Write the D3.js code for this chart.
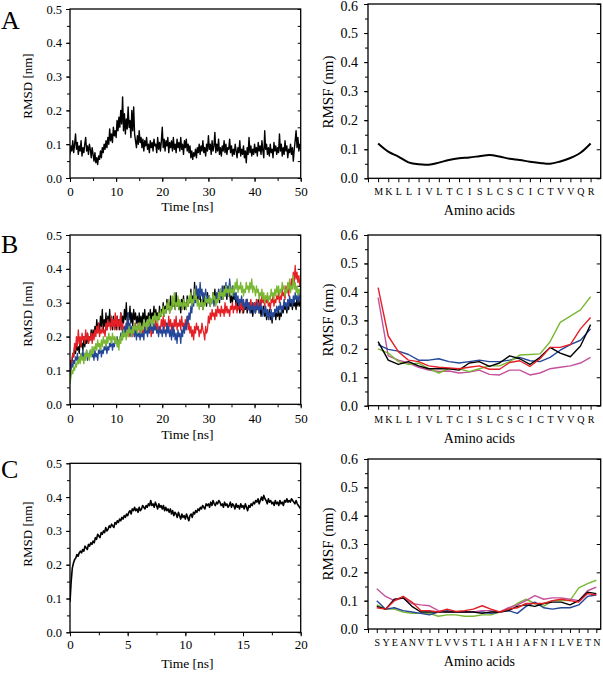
<!DOCTYPE html>
<html><head><meta charset="utf-8">
<script src="https://cdn.jsdelivr.net/npm/d3@7"></script>
<style>
body{margin:0;background:#fff}
svg{display:block}
svg text{font-family:"Liberation Serif","Tinos","Times New Roman","DejaVu Serif","Noto Serif",serif !important;}
</style>
</head><body><svg id="c" width="603" height="673"></svg>
<script>
// ---------- DATA ----------
const panelLetters = ["A","B","C"];
const timeMaxAB = 50, timeMaxC = 20;
const timeTicksAB = [0,10,20,30,40,50];
const timeTicksC = [0,5,10,15,20];
const rmsdTicks = [0,0.1,0.2,0.3,0.4,0.5];
const rmsfTicks = [0,0.1,0.2,0.3,0.4,0.5,0.6];
const aminoAB = ["M","K","L","L","I","V","L","T","C","I","S","L","C","S","C","I","C","T","V","V","Q","R"];
const aminoC = ["S","Y","E","A","N","V","T","L","V","V","S","T","L","I","A","H","I","A","F","N","I","L","V","E","T","N"];

// Panel A, RMSD (nm) over 0-50 ns
const rmsdA = [
.07,.095,.08,.11,.075,.1,.13,.085,.105,.07,.095,.08,.11,.065,.09,.075,.1,.12,.08,.095,.07,.1,.085,.06,.09,
.07,.05,.075,.045,.06,.04,.065,.055,.08,.06,.09,.075,.1,.085,.11,.09,.12,.1,.145,.11,.13,.105,.15,.125,.14,
.12,.17,.14,.18,.15,.2,.16,.24,.14,.19,.13,.175,.145,.21,.15,.17,.12,.2,.14,.21,.13,.11,.09,.125,.1,
.14,.105,.12,.09,.115,.08,.11,.095,.12,.085,.1,.075,.11,.09,.105,.08,.115,.095,.1,.075,.12,.085,.105,.08,.11,
.15,.09,.115,.08,.11,.095,.12,.075,.105,.09,.11,.08,.12,.085,.1,.075,.115,.09,.105,.08,.12,.085,.1,.07,.11,
.09,.115,.08,.1,.075,.095,.06,.08,.055,.075,.065,.085,.06,.09,.075,.1,.07,.095,.08,.11,.075,.09,.065,.1,.08,
.125,.085,.1,.07,.11,.08,.095,.135,.075,.1,.08,.115,.07,.09,.065,.095,.08,.11,.075,.1,.07,.09,.085,.115,.075,
.095,.065,.085,.07,.1,.08,.06,.09,.075,.11,.065,.085,.07,.095,.06,.08,.045,.09,.07,.12,.075,.095,.065,.085,.07,
.1,.075,.09,.065,.105,.08,.095,.07,.11,.08,.06,.14,.085,.1,.07,.09,.065,.1,.075,.085,.06,.105,.08,.095,.07,
.09,.075,.13,.08,.1,.065,.09,.07,.11,.08,.095,.06,.085,.075,.1,.07,.09,.05,.085,.11,.14,.09,.12,.08,.1,.085];

// Panel B, RMSD (nm) over 0-50 ns, four runs
const rmsdBblack = [
.1,.13,.12,.15,.14,.17,.15,.18,.16,.17,.15,.19,.17,.18,.16,.2,.17,.19,.18,.21,.18,.2,.19,.22,.19,
.22,.2,.23,.21,.25,.22,.24,.21,.26,.23,.28,.22,.25,.23,.27,.22,.26,.24,.28,.23,.25,.22,.26,.23,.25,
.22,.26,.24,.25,.22,.27,.23,.26,.24,.28,.25,.3,.24,.27,.25,.29,.24,.27,.23,.28,.25,.27,.24,.26,.23,
.27,.24,.26,.23,.27,.25,.28,.24,.26,.25,.27,.24,.28,.25,.27,.26,.29,.25,.28,.26,.27,.25,.29,.26,.28,
.27,.3,.26,.29,.27,.31,.28,.3,.27,.32,.28,.3,.29,.31,.28,.33,.29,.31,.28,.3,.27,.31,.29,.32,.28,
.3,.28,.32,.29,.31,.3,.34,.29,.32,.3,.36,.31,.33,.3,.34,.31,.32,.29,.31,.28,.32,.3,.31,.29,.33,
.3,.32,.29,.31,.3,.33,.31,.34,.3,.32,.31,.33,.3,.34,.32,.33,.31,.35,.32,.33,.31,.34,.32,.33,.3,
.32,.3,.33,.31,.32,.29,.31,.28,.3,.27,.29,.28,.3,.27,.29,.28,.31,.27,.29,.28,.3,.27,.29,.26,.28,
.3,.27,.29,.28,.31,.27,.29,.26,.28,.27,.29,.26,.28,.25,.27,.26,.28,.25,.27,.24,.27,.26,.28,.25,.27,
.26,.28,.25,.27,.26,.29,.27,.3,.28,.29,.27,.3,.28,.31,.29,.3,.28,.31,.29,.3,.28,.32,.29,.31,.29,.3];
const rmsdBred = [
.08,.11,.13,.15,.14,.18,.16,.2,.17,.22,.18,.2,.17,.21,.19,.2,.18,.22,.19,.21,.18,.2,.19,.21,.18,
.21,.19,.22,.2,.23,.21,.24,.2,.22,.21,.23,.21,.22,.2,.24,.22,.25,.23,.24,.22,.26,.23,.25,.22,.27,
.23,.26,.22,.25,.23,.27,.22,.24,.21,.23,.22,.24,.21,.23,.2,.22,.21,.23,.2,.22,.21,.24,.21,.23,.22,
.24,.21,.23,.2,.22,.21,.24,.22,.23,.21,.24,.22,.23,.2,.22,.21,.23,.22,.25,.22,.24,.21,.23,.22,.25,
.23,.26,.22,.25,.23,.24,.22,.26,.23,.25,.22,.24,.21,.25,.23,.26,.22,.24,.23,.25,.22,.26,.23,.24,.22,
.25,.23,.26,.22,.24,.21,.23,.2,.22,.19,.23,.21,.24,.22,.23,.2,.22,.21,.24,.22,.21,.19,.23,.21,.22,
.26,.24,.27,.25,.28,.26,.27,.25,.28,.26,.29,.27,.28,.26,.29,.27,.28,.26,.3,.27,.29,.27,.28,.26,.29,
.28,.3,.27,.29,.28,.3,.27,.29,.28,.31,.28,.3,.27,.29,.28,.3,.29,.31,.28,.3,.29,.31,.28,.3,.29,
.3,.28,.31,.29,.3,.28,.31,.29,.32,.3,.31,.29,.32,.3,.31,.29,.3,.28,.31,.3,.32,.29,.31,.3,.32,
.31,.33,.3,.32,.31,.34,.32,.33,.31,.35,.33,.34,.32,.36,.34,.37,.35,.39,.36,.41,.37,.39,.36,.38,.35,.37];
const rmsdBblue = [
.08,.1,.12,.11,.13,.12,.14,.13,.15,.12,.14,.13,.15,.14,.16,.13,.15,.14,.16,.13,.15,.14,.16,.15,.14,
.15,.13,.16,.14,.15,.13,.16,.15,.17,.14,.16,.15,.17,.16,.18,.15,.17,.16,.18,.17,.19,.16,.18,.17,.19,
.18,.2,.17,.19,.18,.21,.19,.22,.2,.23,.21,.24,.22,.27,.21,.24,.2,.23,.21,.22,.2,.23,.19,.22,.2,
.21,.19,.22,.2,.21,.19,.23,.21,.22,.2,.23,.21,.24,.22,.23,.21,.24,.22,.23,.21,.22,.2,.23,.21,.22,
.2,.23,.21,.22,.2,.24,.21,.23,.2,.22,.19,.23,.2,.22,.19,.21,.18,.22,.2,.21,.18,.22,.2,.23,.21,
.24,.22,.26,.24,.27,.25,.29,.27,.31,.29,.33,.3,.35,.32,.34,.31,.36,.32,.34,.31,.33,.3,.34,.31,.32,
.3,.32,.29,.31,.3,.32,.29,.31,.3,.33,.31,.34,.32,.33,.31,.35,.32,.34,.33,.36,.32,.35,.33,.37,.34,
.33,.35,.32,.34,.31,.33,.3,.32,.29,.31,.3,.32,.29,.31,.28,.3,.29,.31,.28,.3,.27,.29,.28,.3,.27,
.29,.27,.3,.28,.29,.27,.3,.28,.29,.26,.28,.27,.29,.26,.28,.25,.27,.26,.28,.25,.27,.26,.28,.27,.29,
.27,.29,.28,.3,.27,.29,.28,.31,.29,.3,.28,.31,.29,.32,.3,.31,.29,.32,.3,.33,.31,.32,.3,.33,.31,.32];
const rmsdBgreen = [
.06,.08,.1,.09,.11,.1,.12,.11,.13,.12,.14,.12,.15,.13,.14,.12,.15,.13,.16,.14,.15,.13,.16,.14,.17,
.15,.17,.16,.18,.16,.19,.17,.18,.16,.19,.17,.2,.18,.19,.17,.2,.18,.21,.19,.2,.18,.21,.19,.2,.18,
.2,.17,.19,.16,.2,.18,.21,.19,.22,.2,.21,.19,.22,.2,.23,.21,.22,.2,.23,.21,.24,.22,.23,.21,.24,
.22,.24,.21,.23,.22,.25,.23,.24,.22,.25,.23,.26,.24,.25,.23,.26,.24,.27,.25,.26,.24,.27,.25,.28,.26,
.27,.29,.26,.28,.27,.3,.28,.31,.27,.29,.28,.32,.29,.33,.28,.3,.29,.32,.28,.31,.29,.3,.28,.31,.29,
.3,.28,.31,.29,.32,.3,.33,.29,.31,.3,.34,.31,.32,.29,.31,.28,.3,.29,.31,.28,.3,.29,.32,.3,.31,
.3,.32,.29,.31,.3,.33,.31,.32,.29,.31,.3,.33,.31,.34,.32,.33,.31,.34,.32,.35,.33,.34,.32,.35,.33,
.34,.32,.35,.33,.36,.34,.37,.33,.35,.34,.36,.33,.35,.32,.34,.33,.36,.34,.35,.33,.36,.34,.37,.33,.35,
.34,.32,.35,.33,.34,.31,.33,.32,.34,.31,.33,.3,.32,.31,.33,.3,.32,.31,.34,.32,.33,.31,.34,.32,.35,
.33,.35,.32,.34,.33,.36,.34,.35,.32,.34,.33,.36,.34,.37,.33,.35,.34,.38,.34,.36,.33,.35,.32,.34,.33,.35];

// Panel C, RMSD (nm) over 0-20 ns
const rmsdC = [
.09,.15,.19,.205,.215,.22,.23,.225,.235,.24,
.235,.245,.24,.255,.25,.245,.26,.255,.265,.26,
.27,.265,.28,.275,.29,.285,.28,.295,.29,.3,
.295,.31,.3,.305,.315,.31,.32,.315,.31,.325,
.32,.33,.325,.335,.33,.34,.335,.345,.34,.35,
.345,.355,.36,.35,.365,.36,.37,.36,.365,.355,
.37,.36,.365,.375,.37,.365,.375,.37,.38,.375,
.39,.375,.38,.37,.385,.375,.365,.38,.37,.375,
.365,.375,.36,.37,.36,.365,.355,.365,.35,.36,
.345,.355,.35,.34,.355,.345,.335,.35,.34,.345,
.335,.35,.34,.33,.345,.35,.34,.355,.35,.36,
.355,.365,.36,.37,.365,.375,.37,.365,.38,.375,
.38,.37,.385,.375,.39,.38,.375,.385,.38,.39,
.385,.375,.38,.37,.385,.375,.38,.37,.375,.385,
.37,.38,.375,.365,.38,.37,.375,.365,.38,.37,
.375,.365,.38,.37,.36,.375,.37,.38,.375,.385,
.38,.39,.385,.395,.38,.39,.4,.39,.405,.395,
.39,.38,.395,.385,.39,.38,.385,.375,.39,.38,
.385,.375,.39,.38,.385,.375,.39,.385,.395,.385,
.39,.385,.395,.39,.385,.38,.39,.38,.375,.37,.365];

// RMSF (nm) per residue
const rmsfA = [.12,.092,.075,.055,.048,.047,.054,.063,.069,.072,.076,.08,.075,.067,.063,.057,.053,.05,.058,.07,.088,.12];
const rmsfBblack   = [.225,.16,.145,.155,.14,.13,.13,.13,.125,.15,.155,.138,.15,.175,.165,.145,.17,.205,.185,.172,.21,.285];
const rmsfBred     = [.415,.245,.19,.16,.155,.14,.135,.133,.13,.135,.14,.128,.128,.152,.158,.138,.165,.205,.205,.215,.27,.31];
const rmsfBblue    = [.215,.198,.192,.18,.16,.16,.165,.155,.15,.155,.16,.155,.155,.16,.17,.158,.155,.17,.195,.215,.23,.27];
const rmsfBgreen   = [.2,.185,.155,.145,.15,.13,.115,.13,.13,.12,.13,.14,.14,.155,.178,.18,.182,.225,.293,.315,.337,.383];
const rmsfBmagenta = [.38,.175,.16,.15,.135,.125,.12,.122,.115,.118,.125,.11,.108,.125,.125,.108,.115,.13,.135,.14,.15,.17];
const rmsfCgreen   = [.085,.07,.07,.06,.055,.055,.055,.045,.05,.05,.045,.045,.05,.05,.06,.07,.09,.105,.09,.08,.1,.1,.1,.145,.16,.172];
const rmsfCblack   = [.08,.07,.105,.11,.08,.06,.06,.06,.06,.06,.06,.06,.055,.06,.06,.065,.08,.085,.08,.09,.095,.095,.085,.1,.13,.125];
const rmsfCblue    = [.1,.07,.075,.065,.06,.055,.05,.06,.065,.06,.06,.06,.06,.055,.06,.065,.055,.08,.095,.075,.07,.075,.075,.085,.115,.12];
const rmsfCmagenta = [.142,.115,.1,.11,.09,.085,.082,.065,.06,.06,.06,.06,.065,.065,.06,.075,.085,.1,.118,.105,.11,.11,.105,.1,.135,.148];
const rmsfCred     = [.075,.07,.1,.115,.095,.065,.065,.06,.07,.062,.065,.07,.082,.07,.06,.07,.075,.09,.09,.09,.1,.105,.1,.095,.125,.12];

// ---------- DRAWING ----------
const C = {black:"#000000", red:"#e41f26", blue:"#25479a", green:"#7ab834", magenta:"#c4519b"};
const svg = d3.select("#c");

function styleAxis(g, size){
  g.select(".domain").remove();
  g.attr("font-family", null).attr("font-size", size);
  g.selectAll("line").attr("stroke","#000").attr("stroke-width",1);
  g.selectAll("text").attr("fill","#000");
}
function txt(sel){ return sel.attr("fill","#000"); }

function frame(x0,x1,y0,y1){
  svg.append("rect").attr("x",x0).attr("y",y0).attr("width",x1-x0).attr("height",y1-y0)
    .attr("fill","none").attr("stroke","#000").attr("stroke-width",1.3);
}

function timePanel(idx, top, bot, tMax, ticks, minorStep, series, titleCY, tickBase, titleBase, sw){
  const x0=70, x1=300.7;
  const x = d3.scaleLinear().domain([0,tMax]).range([x0,x1]);
  const y = d3.scaleLinear().domain([0,0.5]).range([bot,top]);
  const cid = "clipT"+idx;
  svg.append("clipPath").attr("id",cid).append("rect").attr("x",x0).attr("y",top).attr("width",x1-x0).attr("height",bot-top);
  const gl = svg.append("g").attr("clip-path",`url(#${cid})`);
  series.forEach(s=>{
    const n = s.values.length;
    const line = d3.line().x((d,i)=>x(i*tMax/(n-1))).y(d=>y(d));
    gl.append("path").attr("d",line(s.values)).attr("fill","none")
      .attr("stroke",s.color).attr("stroke-width",sw).attr("stroke-linejoin","round");
  });
  const minorX = d3.range(0,tMax+0.001,minorStep);
  svg.append("g").attr("transform",`translate(0,${bot})`)
    .call(d3.axisBottom(x).tickValues(minorX).tickSize(3).tickFormat("")).call(g=>styleAxis(g,13));
  const xb = svg.append("g").attr("transform",`translate(0,${bot})`)
    .call(d3.axisBottom(x).tickValues(ticks).tickSize(4).tickPadding(4).tickFormat(d3.format("d")));
  styleAxis(xb,13);
  xb.selectAll("text").attr("dy",null).attr("y",tickBase-bot);
  const minorY = d3.range(0,0.5001,0.05);
  svg.append("g").attr("transform",`translate(${x0},0)`)
    .call(d3.axisLeft(y).tickValues(minorY).tickSize(3).tickFormat("")).call(g=>styleAxis(g,12));
  svg.append("g").attr("transform",`translate(${x0},0)`)
    .call(d3.axisLeft(y).tickValues(rmsdTicks).tickSize(4).tickPadding(4).tickFormat(d3.format(".1f"))).call(g=>styleAxis(g,12.5));
  svg.append("g").attr("transform",`translate(${x1},0)`)
    .call(d3.axisLeft(y).tickValues(minorY).tickSize(3).tickFormat("")).call(g=>styleAxis(g,12));
  frame(x0,x1,top,bot);
  txt(svg.append("text")).attr("transform",`translate(32,${titleCY}) rotate(-90)`).attr("text-anchor","middle")
    .attr("font-size",13).text("RMSD [nm]");
  txt(svg.append("text")).attr("x",(x0+x1)/2+2).attr("y",titleBase).attr("text-anchor","middle")
    .attr("font-size",13.5).text("Time [ns]");
}

function rmsfPanel(idx, top, bot, cats, series, curve, width, titleCY){
  const x0=368, x1=600.7;
  const n = cats.length;
  const x = d3.scaleLinear().domain([-1, n + (n>22?-0.5:0)]).range([x0,x1]);
  const y = d3.scaleLinear().domain([0,0.6]).range([bot,top]);
  const cid = "clipF"+idx;
  svg.append("clipPath").attr("id",cid).append("rect").attr("x",x0).attr("y",top).attr("width",x1-x0).attr("height",bot-top);
  const gl = svg.append("g").attr("clip-path",`url(#${cid})`);
  series.forEach(s=>{
    const line = d3.line().x((d,i)=>x(i)).y(d=>y(d)).curve(curve);
    gl.append("path").attr("d",line(s.values)).attr("fill","none")
      .attr("stroke",s.color).attr("stroke-width",width).attr("stroke-linejoin","round");
  });
  const tv = d3.range(-1,n);
  const xb = svg.append("g").attr("transform",`translate(0,${bot})`)
    .call(d3.axisBottom(x).tickValues(tv).tickSize(4).tickPadding(4).tickFormat(i=> i>=0 ? cats[i] : ""));
  styleAxis(xb, 10);
  xb.selectAll("text").attr("dy",null).attr("y",17);
  const minorY = d3.range(0,0.6001,0.05);
  svg.append("g").attr("transform",`translate(${x0},0)`)
    .call(d3.axisLeft(y).tickValues(minorY).tickSize(3).tickFormat("")).call(g=>styleAxis(g,13));
  const yl = svg.append("g").attr("transform",`translate(${x0},0)`)
    .call(d3.axisLeft(y).tickValues(rmsfTicks).tickSize(4).tickPadding(6).tickFormat(d3.format(".1f")));
  styleAxis(yl,14);
  if (top < 8) yl.selectAll("text").filter(d=>d===0.6).attr("dy","0.45em");
  svg.append("g").attr("transform",`translate(${x1},0)`)
    .call(d3.axisLeft(y).tickValues(rmsfTicks).tickSize(4).tickFormat("")).call(g=>styleAxis(g,13));
  frame(x0,x1,top,bot);
  txt(svg.append("text")).attr("transform",`translate(333,${titleCY}) rotate(-90)`).attr("text-anchor","middle")
    .attr("font-size",15).text("RMSF (nm)");
  txt(svg.append("text")).attr("x",(x0+x1)/2-5).attr("y",bot+37).attr("text-anchor","middle")
    .attr("font-size",14).text("Amino acids");
}

// Panel A
timePanel(0, 9, 178, timeMaxAB, timeTicksAB, 5, [{values:rmsdA,color:C.black}], 86, 196, 211, 1.4);
rmsfPanel(0, 4, 178.3, aminoAB, [{values:rmsfA,color:C.black}], d3.curveCatmullRom, 2, 92);
// Panel B
timePanel(1, 235, 404.3, timeMaxAB, timeTicksAB, 5, [
  {values:rmsdBblack,color:C.black},{values:rmsdBred,color:C.red},
  {values:rmsdBblue,color:C.blue},{values:rmsdBgreen,color:C.green}], 314, 423, 439, 1.3);
rmsfPanel(1, 235, 405.7, aminoAB, [
  {values:rmsfBmagenta,color:C.magenta},{values:rmsfBblue,color:C.blue},{values:rmsfBgreen,color:C.green},
  {values:rmsfBblack,color:C.black},{values:rmsfBred,color:C.red}], d3.curveLinear, 1.4, 320);
// Panel C
timePanel(2, 463.3, 632.3, timeMaxC, timeTicksC, 2.5, [{values:rmsdC,color:C.black}], 534, 649, 668, 1.6);
rmsfPanel(2, 459, 629, aminoC, [
  {values:rmsfCgreen,color:C.green},{values:rmsfCblue,color:C.blue},{values:rmsfCmagenta,color:C.magenta},
  {values:rmsfCblack,color:C.black},{values:rmsfCred,color:C.red}], d3.curveLinear, 1.4, 544);

// panel letters
[[panelLetters[0],29],[panelLetters[1],253],[panelLetters[2],478]].forEach(([t,yb])=>{
  txt(svg.append("text")).attr("x",1).attr("y",yb).attr("font-size",26).text(t);
});
</script></body></html>
